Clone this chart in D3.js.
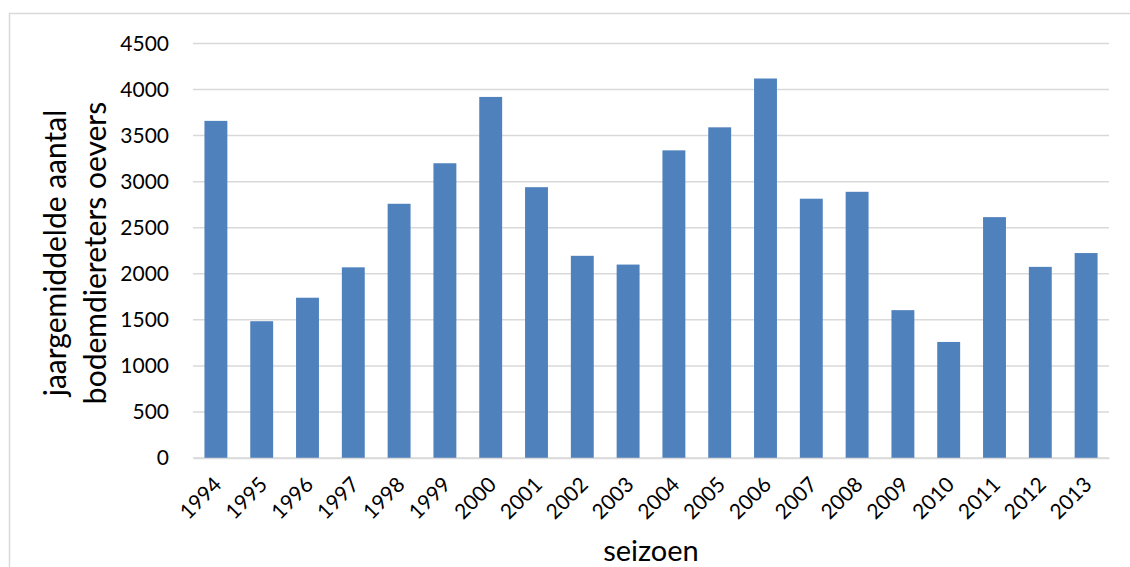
<!DOCTYPE html>
<html>
<head>
<meta charset="utf-8">
<script src="https://cdn.jsdelivr.net/npm/d3@7"></script>
<style>
  html, body { margin: 0; padding: 0; background: #fff; }
  svg { display: block; font-family: Lato, "Open Sans", sans-serif; }
</style>
</head>
<body>
<svg id="chart" width="1130" height="567"></svg>
<script>
const years = ["1994","1995","1996","1997","1998","1999","2000","2001","2002","2003",
               "2004","2005","2006","2007","2008","2009","2010","2011","2012","2013"];
const values = [3660, 1485, 1740, 2070, 2760, 3200, 3920, 2940, 2195, 2100,
                3340, 3590, 4120, 2815, 2890, 1605, 1260, 2615, 2075, 2225];
const yTicks = [0, 500, 1000, 1500, 2000, 2500, 3000, 3500, 4000, 4500];
const yTitleLines = ["jaargemiddelde aantal", "bodemdiereters oevers"];
const xTitle = "seizoen";

const svg = d3.select("#chart");
const mLeft = 193, mRight = 1109, mTop = 43.5, mBottom = 458;

// outer frame
svg.append("path")
  .attr("d", `M9.5,567 V13.5 H1130`)
  .attr("fill", "none").attr("stroke", "#d9d9d9").attr("stroke-width", 1.5);

const x = d3.scaleBand().domain(years).range([mLeft, mRight]).paddingInner(0.5).paddingOuter(0.25);
const y = d3.scaleLinear().domain([0, 4500]).range([mBottom, mTop]);

// gridlines
svg.append("g").selectAll("line").data(yTicks).join("line")
  .attr("x1", mLeft).attr("x2", mRight)
  .attr("y1", d => y(d)).attr("y2", d => y(d))
  .attr("stroke", "#d9d9d9").attr("stroke-width", 1.5);

// bars
svg.append("g").selectAll("rect").data(values).join("rect")
  .attr("x", (d, i) => x(years[i]))
  .attr("width", x.bandwidth())
  .attr("y", d => y(d))
  .attr("height", d => y(0) - y(d))
  .attr("fill", "#4f81bd");

// y axis labels
const yAxis = d3.axisLeft(y).tickValues(yTicks).tickSize(0).tickPadding(0).tickFormat(d3.format("d"));
const gy = svg.append("g").attr("transform", `translate(169,0)`).call(yAxis);
gy.select(".domain").remove();
gy.selectAll("text").attr("font-size", 21).attr("fill", "#000").attr("font-family", "Lato, sans-serif");

// x axis labels
const xAxis = d3.axisBottom(x).tickSize(0).tickPadding(0);
const gx = svg.append("g").attr("transform", `translate(0,${mBottom})`).call(xAxis);
gx.select(".domain").attr("stroke", "#d9d9d9").attr("stroke-width", 1.5);
gx.selectAll("text")
  .attr("font-size", 21).attr("fill", "#000").attr("font-family", "Lato, sans-serif")
  .attr("text-anchor", "end")
  .attr("dy", null).attr("y", 0)
  .attr("transform", "translate(7,28) rotate(-45)");

// y title
const yt = svg.append("text")
  .attr("transform", "translate(0,253) rotate(-90)")
  .attr("text-anchor", "middle").attr("font-size", 30).attr("fill", "#000");
yt.append("tspan").attr("x", 0).attr("y", 66).text(yTitleLines[0]);
yt.append("tspan").attr("x", 0).attr("y", 106).text(yTitleLines[1]);

// x title
svg.append("text").attr("x", (mLeft + mRight) / 2).attr("y", 561)
  .attr("text-anchor", "middle").attr("font-size", 29).attr("fill", "#000")
  .text(xTitle);
</script>
</body>
</html>
